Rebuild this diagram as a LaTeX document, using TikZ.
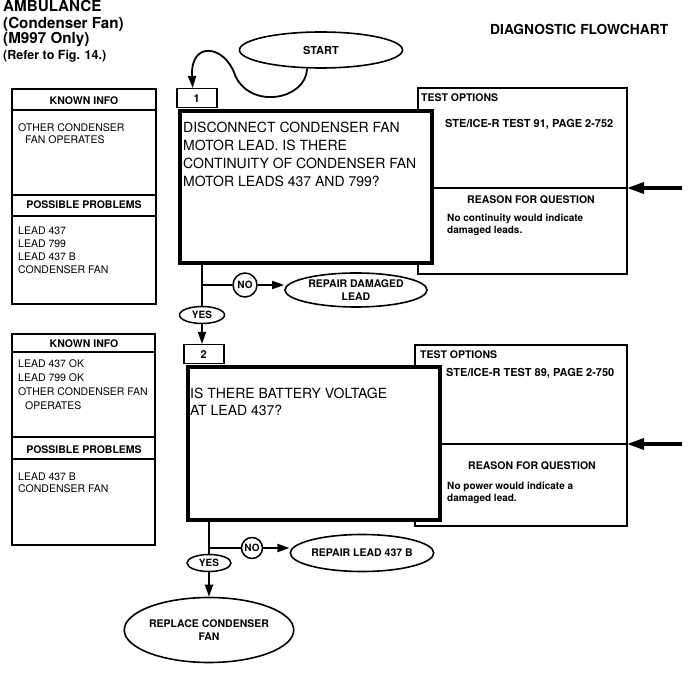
\documentclass[tikz,border=0pt]{standalone}
\usepackage{fontspec}
\setmainfont{TeX Gyre Heros}
\usetikzlibrary{arrows.meta,shapes.geometric}

\begin{document}
\begin{tikzpicture}[x=1pt,y=-1pt,
    hd/.style={font=\bfseries\fontsize{10.5}{12}\selectfont, inner sep=0pt},
    info/.style={font=\fontsize{10.5}{13}\selectfont, align=left, anchor=base west, inner sep=0pt},
    qtext/.style={font=\fontsize{14}{18}\selectfont, align=left, anchor=base west, inner sep=0pt},
    why/.style={font=\bfseries\fontsize{10}{12}\selectfont, align=left, anchor=base west, inner sep=0pt},
    oval/.style={draw, ellipse, line width=1.6pt, fill=white, inner sep=0pt, align=center,
      font=\bfseries\fontsize{10.5}{13}\selectfont},
    answer/.style={draw, ellipse, line width=1.5pt, fill=white, inner sep=0pt,
      font=\bfseries\fontsize{10}{12}\selectfont},
    tabbox/.style={draw, line width=1.5pt, fill=white, anchor=north west, minimum width=40pt,
      minimum height=19pt, inner sep=0pt, font=\bfseries\fontsize{11}{13}\selectfont},
    qbox/.style={draw, line width=4pt, fill=white, anchor=north west, inner sep=0pt},
    frame/.style={line width=1.4pt},
    flow/.style={line width=1.8pt, -{Triangle[length=12pt,width=8pt]}},
    bigarrow/.style={line width=3.5pt, -{Triangle[length=17pt,width=11pt]}}]

  \useasboundingbox (0,0) rectangle (691,676);

  % 标题
  \node[anchor=base west, inner sep=0pt, font=\bfseries\fontsize{15.2}{16}\selectfont] (t1) at (3,12) {AMBULANCE};
  \node[anchor=base west, inner sep=0pt, font=\bfseries\fontsize{15.2}{16}\selectfont] (t2) at (3,28.5) {(Condenser Fan)};
  \node[anchor=base west, inner sep=0pt, font=\bfseries\fontsize{15.2}{16}\selectfont] (t3) at (3,44) {(M997 Only)};
  \node[anchor=base west, inner sep=0pt, font=\bfseries\fontsize{12.5}{14}\selectfont] (t4) at (3,60) {(Refer to Fig. 14.)};
  \node[anchor=base west, inner sep=0pt, font=\bfseries\fontsize{13.8}{16}\selectfont] (chart) at (490,35) {DIAGNOSTIC FLOWCHART};

  % 开始
  \node[oval, minimum width=163pt, minimum height=36pt, font=\bfseries\fontsize{11}{13}\selectfont] (start) at (321,50) {START};

  % 第 1 步: 左侧信息 (多行文字按最后一行基线定位)
  \draw[frame] (12,89) rectangle (156,304);
  \draw[frame] (12,110) -- (156,110);
  \draw[frame] (12,195) -- (156,195);
  \draw[frame] (12,216) -- (156,216);
  \node[hd, anchor=base] (known1) at (84,105) {KNOWN INFO};
  \node[info, font=\fontsize{10.5}{12}\selectfont] (kinfo1) at (18,144) {OTHER CONDENSER\\\hspace*{7pt}FAN OPERATES};
  \node[hd, anchor=base] (prob1) at (84,209) {POSSIBLE PROBLEMS};
  \node[info] (plist1) at (18,274) {LEAD 437\\LEAD 799\\LEAD 437 B\\CONDENSER FAN};

  % 第 1 步: 右侧选项
  \draw[frame] (418,88) rectangle (627,274);
  \draw[frame] (418,188) -- (627,188);
  \coordinate (opt1) at (627,188);
  \coordinate (src1) at (682,188);
  \node[hd, anchor=base west] (test1) at (421,102) {TEST OPTIONS};
  \node[hd, anchor=base west, font=\bfseries\fontsize{11}{13}\selectfont] (ste1) at (445,127.5) {STE/ICE-R TEST 91, PAGE 2-752};
  \node[hd, anchor=base] (reason1) at (531,203.5) {REASON FOR QUESTION};
  \node[why] (why1) at (447,234) {No continuity would indicate\\damaged leads.};

  % 第 1 步: 问题
  \node[tabbox] (tab1) at (176,88) {1};
  \node[qbox, minimum width=252pt, minimum height=152pt] (box1) at (178,109) {};
  \node[qtext] (q1) at (183,187) {DISCONNECT CONDENSER FAN\\MOTOR LEAD. IS THERE\\CONTINUITY OF CONDENSER FAN\\MOTOR LEADS 437 AND 799?};

  \draw[flow] ([xshift=-14pt]start.south) .. controls (306,100) and (250,110) .. (235,75)
    .. controls (225,45) and (190,40) .. ([xshift=-4pt]tab1.north);
  \draw[bigarrow] (src1) -- (opt1);

  % 第 1 步: 分支
  \node[answer, minimum width=45pt, minimum height=17pt] (yes1) at (202,315) {YES};
  \node[answer, circle, minimum size=24pt] (no1) at (245,285) {NO};
  \node[oval, minimum width=142pt, minimum height=34pt] (fix1) at (356,290) {REPAIR DAMAGED\\LEAD};
  \draw[line width=1.8pt] (box1.south -| yes1) -- (yes1.north);
  \draw[line width=1.8pt] (yes1 |- no1) -- (no1);
  \draw[flow] (no1.east) -- (no1.east -| fix1.west);

  % 第 2 步: 左侧信息
  \draw[frame] (12,334) rectangle (155,545);
  \draw[frame] (12,352) -- (155,352);
  \draw[frame] (12,437) -- (155,437);
  \draw[frame] (12,459) -- (155,459);
  \node[hd, anchor=base] (known2) at (84,347.5) {KNOWN INFO};
  \node[info, font=\fontsize{10.5}{13.7}\selectfont] (kinfo2) at (18,409) {LEAD 437 OK\\LEAD 799 OK\\OTHER CONDENSER FAN\\\hspace*{7pt}OPERATES};
  \node[hd, anchor=base] (prob2) at (84,453) {POSSIBLE PROBLEMS};
  \node[info, font=\fontsize{10.5}{12.5}\selectfont] (plist2) at (18,492.5) {LEAD 437 B\\CONDENSER FAN};

  % 第 2 步: 右侧选项
  \draw[frame] (415,345) rectangle (627,526);
  \draw[frame] (415,444) -- (627,444);
  \coordinate (opt2) at (627,444);
  \coordinate (src2) at (682,444);
  \node[hd, anchor=base west] (test2) at (420,359) {TEST OPTIONS};
  \node[hd, anchor=base west, font=\bfseries\fontsize{11}{13}\selectfont] (ste2) at (446,377) {STE/ICE-R TEST 89, PAGE 2-750};
  \node[hd, anchor=base] (reason2) at (532,469) {REASON FOR QUESTION};
  \node[why] (why2) at (447,501) {No power would indicate a\\damaged lead.};

  % 第 2 步: 问题
  \node[tabbox] (tab2) at (183,344) {2};
  \node[qbox, minimum width=252pt, minimum height=153pt] (box2) at (186,365) {};
  \node[qtext, font=\fontsize{14}{16.5}\selectfont] (q2) at (190,415) {IS THERE BATTERY VOLTAGE\\AT LEAD 437?};

  \draw[flow] (yes1.south) -- (yes1.south |- tab2.north);
  \draw[bigarrow] (src2) -- (opt2);

  % 第 2 步: 分支
  \node[answer, minimum width=44pt, minimum height=17pt] (yes2) at (209,563) {YES};
  \node[answer, circle, minimum size=21pt] (no2) at (252,548) {NO};
  \node[oval, minimum width=139pt, minimum height=37pt] (fix2) at (362,553) {REPAIR LEAD 437 B};
  \node[oval, minimum width=155pt, minimum height=65pt] (fin) at (209,630) {REPLACE CONDENSER\\FAN};
  \draw[line width=1.8pt] (box2.south -| yes2) -- (yes2.north);
  \draw[line width=1.8pt] (yes2 |- no2) -- (no2);
  \draw[flow] (no2.east) -- (no2.east -| fix2.west);
  \draw[flow] (yes2.south) -- (fin.north);
\end{tikzpicture}
\end{document}
